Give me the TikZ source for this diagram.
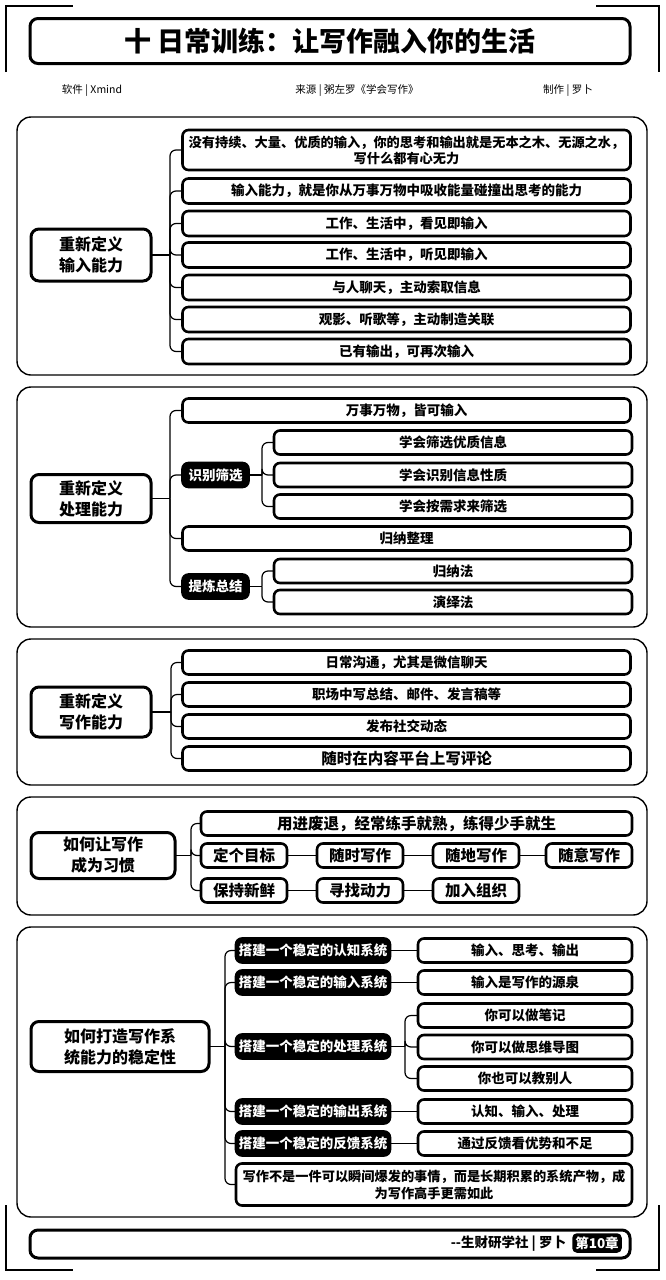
\documentclass[tikz,border=0pt]{standalone}
\usepackage{fontspec}
\newfontfamily\cjk{Noto Sans CJK SC}
\begin{document}
\begin{tikzpicture}[x=1pt,y=-1pt,
  every node/.style={inner sep=0pt, outer sep=0pt, align=center},
  leaf/.style={draw, line width=2.6pt, rounded corners=6pt, fill=white,
    font=\cjk\bfseries\fontsize{13.5}{16}\selectfont},
  dark/.style={draw, line width=2.6pt, rounded corners=6pt, fill=black, text=white,
    font=\cjk\bfseries\fontsize{13.5}{16}\selectfont},
  root/.style={draw, line width=3pt, rounded corners=8pt, fill=white,
    font=\cjk\bfseries\fontsize{16}{21}\selectfont},
  section/.style={draw, line width=1.4pt, rounded corners=14pt},
  conn/.style={draw, line width=1.2pt, rounded corners=6pt},
  frame/.style={draw, line width=1.3pt},
  big/.style={font=\cjk\bfseries\fontsize{15.5}{18}\selectfont},
]
\useasboundingbox[fill=white] (0,0) rectangle (666,1280);

% outer corner brackets
\draw[frame] (6,72) -- (6,6) -- (73,6);
\draw[frame] (596,6) -- (659,6) -- (659,72);
\draw[frame] (6,1205) -- (6,1270) -- (73,1270);
\draw[frame] (596,1270) -- (659,1270) -- (659,1205);

% title bar
\node[draw, line width=3pt, rounded corners=8pt, minimum width=600pt, minimum height=45pt,
  font=\cjk\bfseries\fontsize{27}{30}\selectfont] (title) at (330,41)
  {十\ 日常训练：让写作融入你的生活};

% credits line
\node[font=\cjk\fontsize{10.5}{12}\selectfont] (sw) at (92,91) {软件 | Xmind};
\node[font=\cjk\fontsize{10.5}{12}\selectfont] (src) at (357,91) {来源 | 粥左罗《学会写作》};
\node[font=\cjk\fontsize{10.5}{12}\selectfont] (mk) at (568,91) {制作 | 罗卜};

% ---------- section 1 ----------
\draw[section] (17,117) rectangle (647,375);
\node[root, minimum width=120pt, minimum height=52pt] (r1) at (91,255) {重新定义\\输入能力};
\node[leaf, minimum width=448pt, minimum height=40pt, font=\cjk\bfseries\fontsize{13.2}{16}\selectfont] (c1) at (406.5,150)
  {没有持续、大量、优质的输入，你的思考和输出就是无本之木、无源之水，\\写什么都有心无力};
\node[leaf, minimum width=448pt, minimum height=25pt] (c2) at (406.5,191) {输入能力，就是你从万事万物中吸收能量碰撞出思考的能力};
\node[leaf, minimum width=448pt, minimum height=25pt] (c3) at (406.5,223.5) {工作、生活中，看见即输入};
\node[leaf, minimum width=448pt, minimum height=25pt] (c4) at (406.5,255) {工作、生活中，听见即输入};
\node[leaf, minimum width=448pt, minimum height=25pt] (c5) at (406.5,287.5) {与人聊天，主动索取信息};
\node[leaf, minimum width=448pt, minimum height=25pt] (c6) at (406.5,319.5) {观影、听歌等，主动制造关联};
\node[leaf, minimum width=448pt, minimum height=25pt] (c7) at (406.5,351.5) {已有输出，可再次输入};
\coordinate (s1) at (170,255);
\draw[conn] (r1.east) -- (s1);
\foreach \n in {c1,c2,c3,c4,c5,c6,c7} \draw[conn] (s1) |- (\n.west);

% ---------- section 2 ----------
\draw[section] (17,387) rectangle (647,627);
\node[root, minimum width=120pt, minimum height=48pt] (r2) at (91,498.5) {重新定义\\处理能力};
\node[leaf, minimum width=448pt, minimum height=24pt] (d1) at (406.5,410.5) {万事万物，皆可输入};
\node[dark, minimum width=66pt, minimum height=24pt] (d2) at (215.5,475) {识别筛选};
\node[leaf, minimum width=358pt, minimum height=24pt] (e1) at (453,442.5) {学会筛选优质信息};
\node[leaf, minimum width=358pt, minimum height=24pt] (e2) at (453,475) {学会识别信息性质};
\node[leaf, minimum width=358pt, minimum height=24pt] (e3) at (453,506.5) {学会按需求来筛选};
\node[leaf, minimum width=448pt, minimum height=24pt] (d3) at (406.5,538.5) {归纳整理};
\node[dark, minimum width=66pt, minimum height=24pt] (d4) at (215.5,586.5) {提炼总结};
\node[leaf, minimum width=358pt, minimum height=24pt] (f1) at (453,571) {归纳法};
\node[leaf, minimum width=358pt, minimum height=24pt] (f2) at (453,602) {演绎法};
\coordinate (s2) at (170,498.5);
\draw[conn] (r2.east) -- (s2);
\foreach \n in {d1,d2,d3,d4} \draw[conn] (s2) |- (\n.west);
\coordinate (s2a) at (262,475);
\draw[conn] (d2.east) -- (s2a);
\foreach \n in {e1,e2,e3} \draw[conn] (s2a) |- (\n.west);
\coordinate (s2b) at (262,586.5);
\draw[conn] (d4.east) -- (s2b);
\foreach \n in {f1,f2} \draw[conn] (s2b) |- (\n.west);

% ---------- section 3 ----------
\draw[section] (17,639) rectangle (647,785);
\node[root, minimum width=120pt, minimum height=50pt] (r3) at (91,712) {重新定义\\写作能力};
\node[leaf, minimum width=448pt, minimum height=24pt] (g1) at (406.5,662.5) {日常沟通，尤其是微信聊天};
\node[leaf, minimum width=448pt, minimum height=24pt] (g2) at (406.5,694.5) {职场中写总结、邮件、发言稿等};
\node[leaf, minimum width=448pt, minimum height=24pt] (g3) at (406.5,726.5) {发布社交动态};
\node[leaf, big, minimum width=448pt, minimum height=24pt] (g4) at (406.5,758.5) {随时在内容平台上写评论};
\coordinate (s3) at (171,712);
\draw[conn] (r3.east) -- (s3);
\foreach \n in {g1,g2,g3,g4} \draw[conn] (s3) |- (\n.west);

% ---------- section 4 ----------
\draw[section] (17,797) rectangle (647,915);
\node[root, minimum width=144pt, minimum height=46pt] (r4) at (103,855.5) {如何让写作\\成为习惯};
\node[leaf, big, minimum width=431pt, minimum height=24pt] (h0) at (416.5,823.5) {用进废退，经常练手就熟，练得少手就生};
\node[leaf, big, minimum width=86pt, minimum height=24pt] (h1) at (244,855.5) {定个目标};
\node[leaf, big, minimum width=86pt, minimum height=24pt] (h2) at (360,855.5) {随时写作};
\node[leaf, big, minimum width=86pt, minimum height=24pt] (h3) at (476,855.5) {随地写作};
\node[leaf, big, minimum width=86pt, minimum height=24pt] (h4) at (589,855.5) {随意写作};
\node[leaf, big, minimum width=86pt, minimum height=24pt] (h5) at (244,890.5) {保持新鲜};
\node[leaf, big, minimum width=86pt, minimum height=24pt] (h6) at (360,890.5) {寻找动力};
\node[leaf, big, minimum width=86pt, minimum height=24pt] (h7) at (476,890.5) {加入组织};
\coordinate (s4) at (191,855.5);
\draw[conn] (r4.east) -- (s4);
\foreach \n in {h0,h1,h5} \draw[conn] (s4) |- (\n.west);
\draw[conn] (h1) -- (h2) (h2) -- (h3) (h3) -- (h4);
\draw[conn] (h5) -- (h6) (h6) -- (h7);

% ---------- section 5 ----------
\draw[section] (17,927) rectangle (647,1217);
\node[root, minimum width=178pt, minimum height=50pt] (r5) at (120,1046.5) {如何打造写作系\\统能力的稳定性};
\node[dark, minimum width=154pt, minimum height=24pt] (m1) at (313,950.5) {搭建一个稳定的认知系统};
\node[dark, minimum width=154pt, minimum height=24pt] (m2) at (313,982.5) {搭建一个稳定的输入系统};
\node[dark, minimum width=154pt, minimum height=24pt] (m3) at (313,1046.5) {搭建一个稳定的处理系统};
\node[dark, minimum width=154pt, minimum height=24pt] (m4) at (313,1111.5) {搭建一个稳定的输出系统};
\node[dark, minimum width=154pt, minimum height=24pt] (m5) at (313,1143.5) {搭建一个稳定的反馈系统};
\node[leaf, minimum width=396pt, minimum height=42pt, font=\cjk\bfseries\fontsize{13.2}{17}\selectfont] (m6) at (434,1184.5)
  {写作不是一件可以瞬间爆发的事情，而是长期积累的系统产物，成\\为写作高手更需如此};
\node[leaf, minimum width=214pt, minimum height=24pt] (n1) at (525,950.5) {输入、思考、输出};
\node[leaf, minimum width=214pt, minimum height=24pt] (n2) at (525,982.5) {输入是写作的源泉};
\node[leaf, minimum width=214pt, minimum height=24pt] (n3a) at (525,1015.5) {你可以做笔记};
\node[leaf, minimum width=214pt, minimum height=24pt] (n3b) at (525,1047) {你可以做思维导图};
\node[leaf, minimum width=214pt, minimum height=24pt] (n3c) at (525,1078.5) {你也可以教别人};
\node[leaf, minimum width=214pt, minimum height=24pt] (n4) at (525,1111.5) {认知、输入、处理};
\node[leaf, minimum width=214pt, minimum height=24pt] (n5) at (525,1143.5) {通过反馈看优势和不足};
\coordinate (s5) at (225,1046.5);
\draw[conn] (r5.east) -- (s5);
\foreach \n in {m1,m2,m3,m4,m5,m6} \draw[conn] (s5) |- (\n.west);
\draw[conn] (m1) -- (n1);
\draw[conn] (m2) -- (n2);
\draw[conn] (m4) -- (n4);
\draw[conn] (m5) -- (n5);
\coordinate (s5a) at (405,1046.5);
\draw[conn] (m3.east) -- (s5a);
\foreach \n in {n3a,n3b,n3c} \draw[conn] (s5a) |- (\n.west);

% ---------- footer ----------
\node[draw, line width=3pt, rounded corners=8pt, minimum width=600pt, minimum height=28pt] (foot) at (330,1244) {};
\node[anchor=east, font=\cjk\bfseries\fontsize{13.5}{16}\selectfont] (sig) at (566,1244) {--生财研学社 | 罗卜};
\node[dark, line width=1.5pt, rounded corners=4pt, minimum width=48pt, minimum height=18pt] (ch) at (597,1243) {第10章};
\end{tikzpicture}
\end{document}
